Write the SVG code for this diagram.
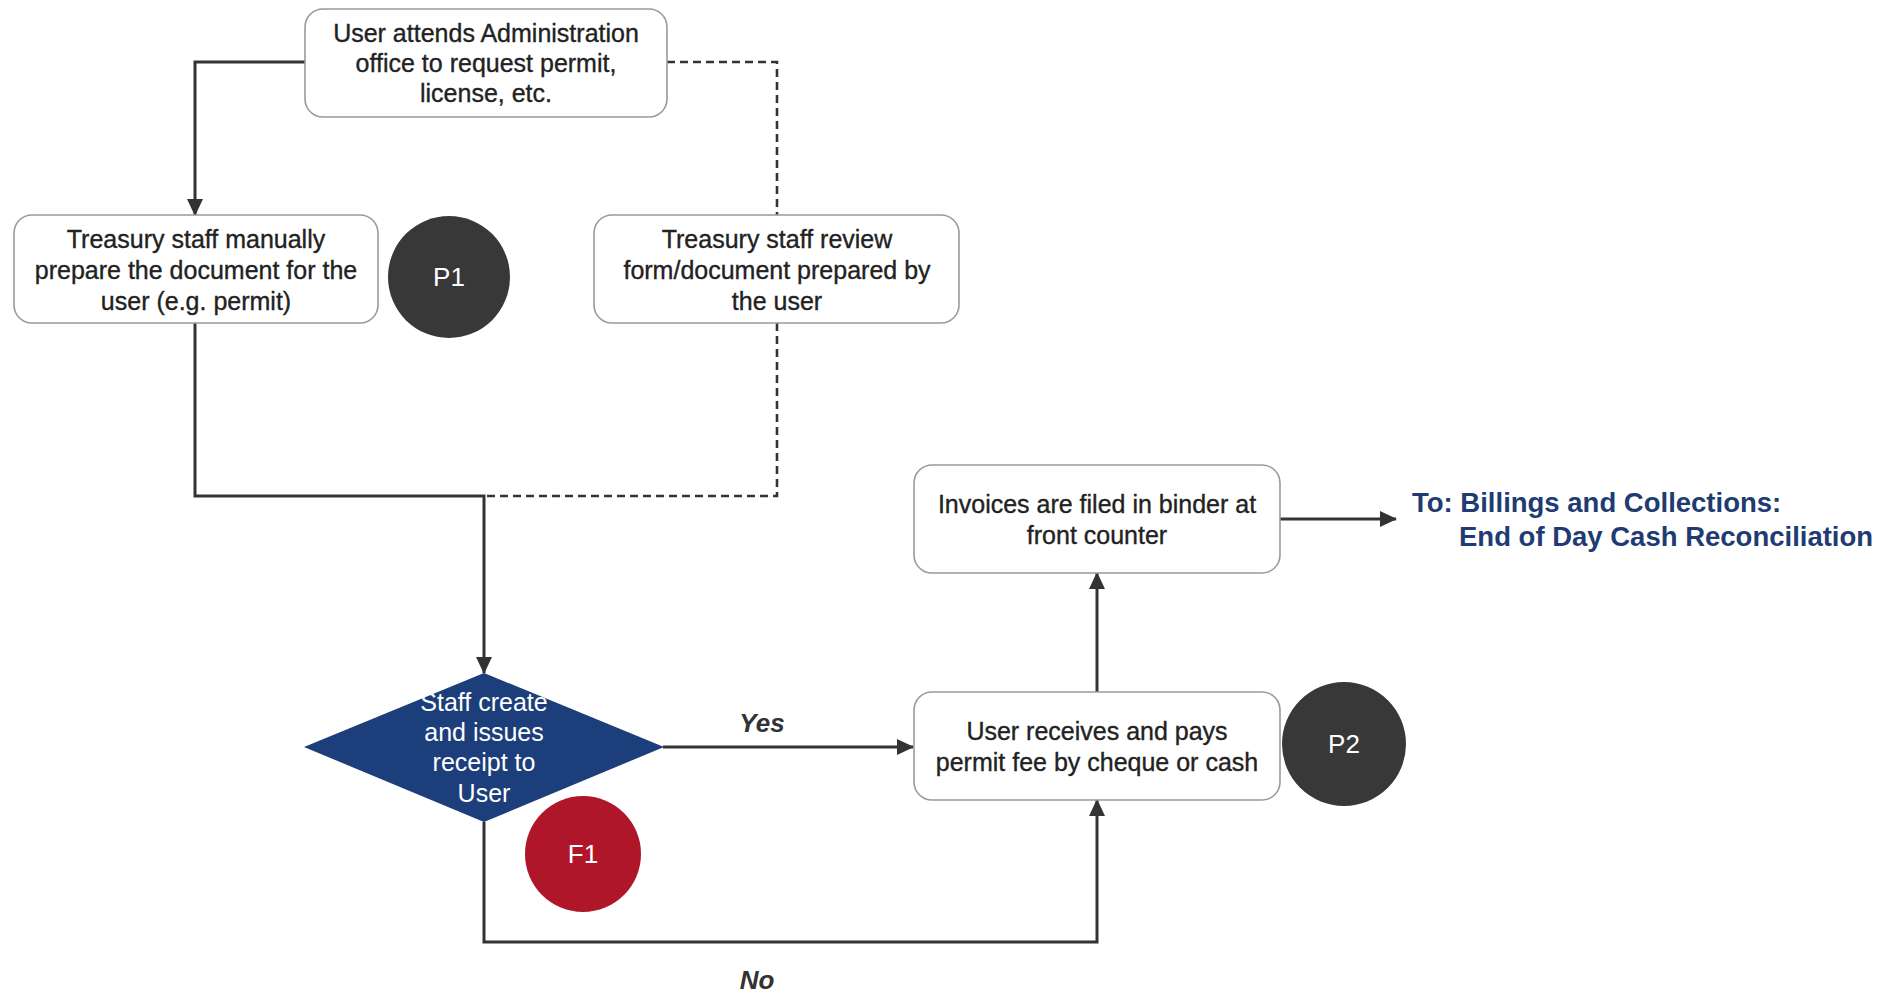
<svg xmlns="http://www.w3.org/2000/svg" width="1898" height="995" viewBox="0 0 1898 995">
  <defs>
    <marker id="arrow" markerUnits="userSpaceOnUse" markerWidth="18" markerHeight="16" refX="16" refY="8" orient="auto">
      <path d="M0,0 L17,8 L0,16 z" fill="#333"/>
    </marker>
  </defs>
  <style>
    .box { fill: #fff; stroke: #9a9a9a; stroke-width: 1.6; }
    .txt { font-family: "Liberation Sans", Arial, sans-serif; font-size: 25px; fill: #222; stroke: #222; stroke-width: 0.35; text-anchor: middle; }
    .wtxt { font-family: "Liberation Sans", Arial, sans-serif; font-size: 25px; fill: #fff; text-anchor: middle; }
    .badge { font-family: "Liberation Sans", Arial, sans-serif; font-size: 26px; fill: #fff; text-anchor: middle; }
    .lbl { font-family: "Liberation Sans", Arial, sans-serif; font-size: 26px; font-style: italic; font-weight: bold; fill: #333; text-anchor: middle; }
    .link { font-family: "Liberation Sans", Arial, sans-serif; font-size: 27.5px; font-weight: bold; fill: #1f3c72; }
    .solid { fill: none; stroke: #333; stroke-width: 3; }
    .dash { fill: none; stroke: #333; stroke-width: 2.6; stroke-dasharray: 8 5; }
  </style>
  <rect width="1898" height="995" fill="#fff"/>

  <!-- connectors -->
  <g id="connectors">
    <path class="solid" d="M305,62 H195 V215" marker-end="url(#arrow)"/>
    <path class="solid" d="M195,323 V496 H484 V673" marker-end="url(#arrow)"/>
    <path class="dash" d="M667,62 H777 V215"/>
    <path class="dash" d="M777,323 V496 H484"/>
    <path class="solid" d="M663,747 H913" marker-end="url(#arrow)"/>
    <path class="solid" d="M484,822 V942 H1097 V800" marker-end="url(#arrow)"/>
    <path class="solid" d="M1097,692 V573" marker-end="url(#arrow)"/>
    <path class="solid" d="M1280,519 H1396" marker-end="url(#arrow)"/>
    <text class="lbl" x="762" y="732">Yes</text>
    <text class="lbl" x="757" y="989">No</text>
  </g>

  <g id="node-request">
    <rect class="box" x="305" y="9" width="362" height="108" rx="18"/>
    <text class="txt" x="486" y="42">User attends Administration</text>
    <text class="txt" x="486" y="72">office to request permit,</text>
    <text class="txt" x="486" y="102">license, etc.</text>
  </g>

  <g id="node-prepare">
    <rect class="box" x="14" y="215" width="364" height="108" rx="18"/>
    <text class="txt" x="196" y="248">Treasury staff manually</text>
    <text class="txt" x="196" y="279">prepare the document for the</text>
    <text class="txt" x="196" y="310">user (e.g. permit)</text>
  </g>

  <g id="badge-p1">
    <circle cx="449" cy="277" r="61" fill="#383838"/>
    <text class="badge" x="449" y="286">P1</text>
  </g>

  <g id="node-review">
    <rect class="box" x="594" y="215" width="365" height="108" rx="18"/>
    <text class="txt" x="777" y="248">Treasury staff review</text>
    <text class="txt" x="777" y="279">form/document prepared by</text>
    <text class="txt" x="777" y="310">the user</text>
  </g>

  <g id="node-receipt">
    <polygon points="484,673 664,747 484,822 304,747" fill="#1c3e7a"/>
    <text class="wtxt" x="484" y="711">Staff create</text>
    <text class="wtxt" x="484" y="741">and issues</text>
    <text class="wtxt" x="484" y="771">receipt to</text>
    <text class="wtxt" x="484" y="802">User</text>
  </g>

  <g id="badge-f1">
    <circle cx="583" cy="854" r="58" fill="#b01629"/>
    <text class="badge" x="583" y="863">F1</text>
  </g>

  <g id="node-pay">
    <rect class="box" x="914" y="692" width="366" height="108" rx="18"/>
    <text class="txt" x="1097" y="740">User receives and pays</text>
    <text class="txt" x="1097" y="771">permit fee by cheque or cash</text>
  </g>

  <g id="badge-p2">
    <circle cx="1344" cy="744" r="62" fill="#383838"/>
    <text class="badge" x="1344" y="753">P2</text>
  </g>

  <g id="node-file">
    <rect class="box" x="914" y="465" width="366" height="108" rx="18"/>
    <text class="txt" x="1097" y="513">Invoices are filed in binder at</text>
    <text class="txt" x="1097" y="544">front counter</text>
  </g>

  <g id="node-next">
    <text class="link" x="1412" y="512">To: Billings and Collections:</text>
    <text class="link" x="1459" y="546">End of Day Cash Reconciliation</text>
  </g>
</svg>
